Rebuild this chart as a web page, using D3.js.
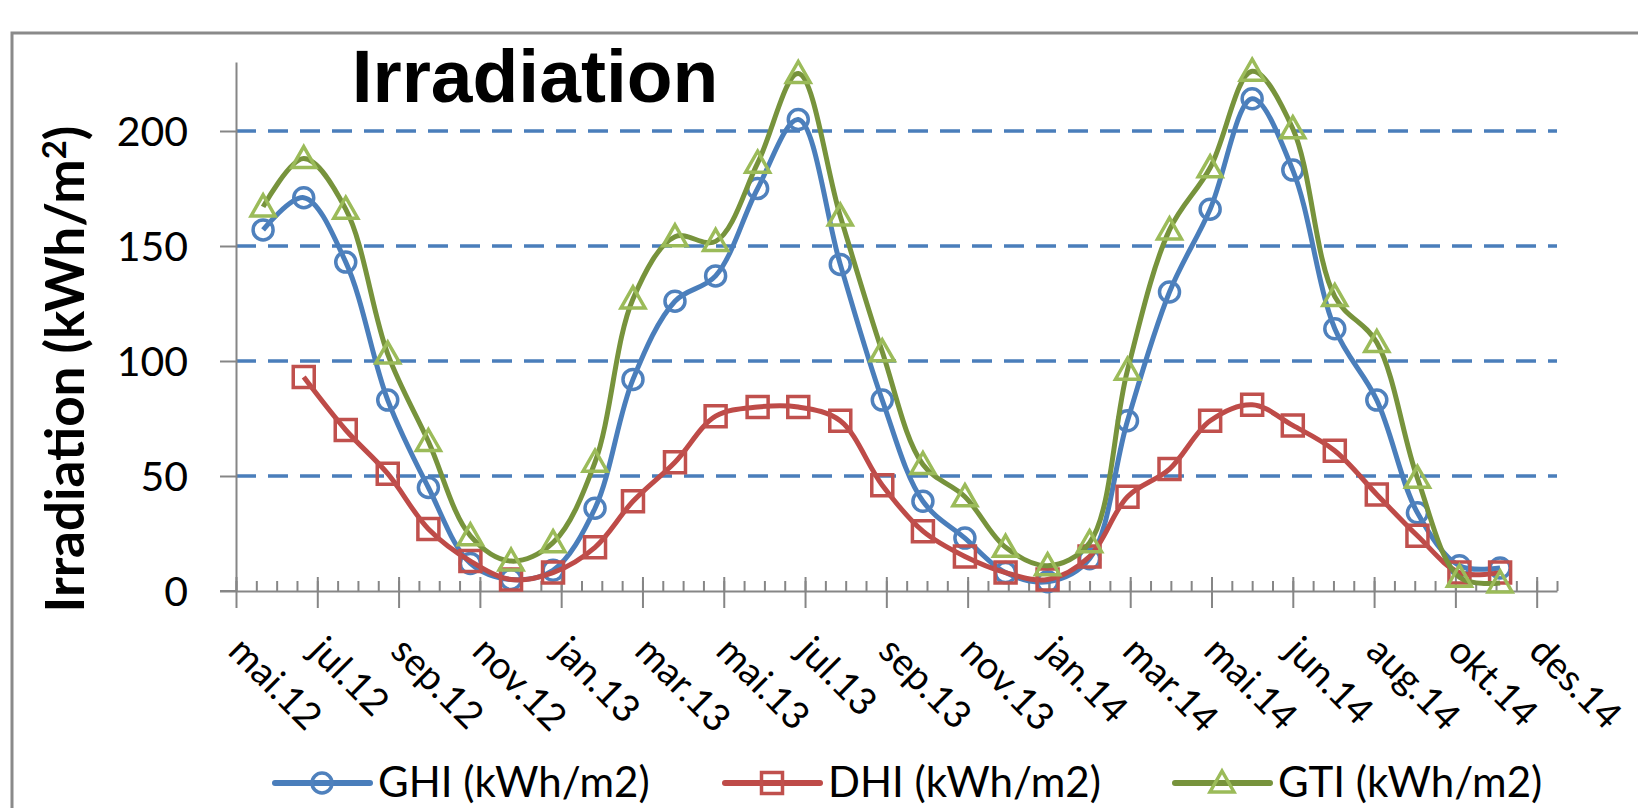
<!DOCTYPE html>
<html>
<head>
<meta charset="utf-8">
<script src="https://cdn.jsdelivr.net/npm/d3@7"></script>
<style>
  body { margin: 0; background: #fff; }
  svg text { font-family: Lato, "Open Sans", sans-serif; fill: #000; }
</style>
</head>
<body>
<svg id="chart" width="1638" height="808"></svg>
<script>
// monthly values, May 2012 .. Nov 2014
const MONTHS = ["2012-05","2012-06","2012-07","2012-08","2012-09","2012-10","2012-11","2012-12",
  "2013-01","2013-02","2013-03","2013-04","2013-05","2013-06","2013-07","2013-08","2013-09","2013-10","2013-11","2013-12",
  "2014-01","2014-02","2014-03","2014-04","2014-05","2014-06","2014-07","2014-08","2014-09","2014-10","2014-11"];
const GHI = [157,171,143,83,45,12,5,9,36,92,126,137,175,205,142,83,39,23,8,4,14,74,130,166,214,183,114,83,34,11,10];
const DHI = [null,93,70,51,27,13,5,8,19,39,56,76,80,80,74,46,26,15,8,5,15,41,53,74,81,72,61,42,24,8,8];
const GTI = [167,188,166,103,65,24,13,21,56,127,154,152,186,225,163,104,55,41,19,11,21,96,157,184,226,201,128,108,49,6,3.5];

const SERIES_NAMES = ["GHI (kWh/m2)", "DHI (kWh/m2)", "GTI (kWh/m2)"];
const X_TICK_LABELS = ["mai.12","jul.12","sep.12","nov.12","jan.13","mar.13","mai.13","jul.13","sep.13",
  "nov.13","jan.14","mar.14","mai.14","jun.14","aug.14","okt.14","des.14"];
const Y_TICKS = [0, 50, 100, 150, 200];

// excel style date axis: 60 day major unit, 15 day minor unit
const AXIS_START = new Date(Date.UTC(2012, 4, 11));
const MAJOR_DAYS = 60;
const MINOR_DAYS = 15;
const AXIS_DAYS = 975;

const LEFT = 236, RIGHT = 1557, TOP = 62, BOTTOM = 591;

var svg = d3.select('#chart');

// outer chart frame (cut by the picture edge)
svg.append('rect')
  .attr('x', 12).attr('y', 33)
  .attr('width', 1700).attr('height', 900)
  .attr('fill', 'none')
  .attr('stroke', '#8a8a8a')
  .attr('stroke-width', 3);

var parseMonth = d3.utcParse('%Y-%m');
// points sit at the last day of each month
var dates = MONTHS.map(function (m) {
  return d3.utcDay.offset(d3.utcMonth.offset(parseMonth(m), 1), -1);
});

var x = d3.scaleUtc()
  .domain([AXIS_START, d3.utcDay.offset(AXIS_START, AXIS_DAYS)])
  .range([LEFT, RIGHT]);

var y = d3.scaleLinear()
  .domain([0, 230])
  .range([BOTTOM, TOP]);

// dashed gridlines
svg.append('g')
  .selectAll('line')
  .data(Y_TICKS.filter(function (d) { return d > 0; }))
  .enter().append('line')
  .attr('x1', LEFT).attr('x2', RIGHT)
  .attr('y1', function (d) { return y(d); })
  .attr('y2', function (d) { return y(d); })
  .attr('stroke', '#4a7ebb')
  .attr('stroke-width', 3.5)
  .attr('stroke-dasharray', '20 12');

// y axis
var yAxis = svg.append('g')
  .attr('transform', 'translate(' + LEFT + ',0)')
  .call(d3.axisLeft(y).tickValues(Y_TICKS).tickSize(16).tickSizeOuter(0).tickPadding(32));
yAxis.select('.domain').attr('stroke', '#868686').attr('stroke-width', 2);
yAxis.selectAll('.tick line').attr('stroke', '#868686').attr('stroke-width', 2);
yAxis.selectAll('.tick text')
  .style('font-size', '41px')
  .attr('dy', '0.36em');

// x axis, minor ticks first
var majorDates = X_TICK_LABELS.map(function (d, i) { return d3.utcDay.offset(AXIS_START, i * MAJOR_DAYS); });
var minorDates = d3.range(0, AXIS_DAYS + 1, MINOR_DAYS).map(function (k) { return d3.utcDay.offset(AXIS_START, k); });

var xMinor = svg.append('g')
  .attr('transform', 'translate(0,' + BOTTOM + ')')
  .call(d3.axisBottom(x).tickValues(minorDates).tickSize(-10).tickSizeOuter(0).tickFormat(''));
xMinor.select('.domain').attr('stroke', '#868686').attr('stroke-width', 2);
xMinor.selectAll('.tick line').attr('stroke', '#868686').attr('stroke-width', 2);

var xAxis = svg.append('g')
  .attr('transform', 'translate(0,' + BOTTOM + ')')
  .call(d3.axisBottom(x).tickValues(majorDates).tickSize(17).tickSizeOuter(0)
    .tickFormat(function (d, i) { return X_TICK_LABELS[i]; }));
xAxis.select('.domain').remove();
xAxis.selectAll('.tick line')
  .attr('y1', -14)
  .attr('stroke', '#868686').attr('stroke-width', 2);
xAxis.selectAll('.tick text')
  .attr('x', 0).attr('y', 0).attr('dy', null)
  .attr('text-anchor', 'start')
  .attr('transform', 'translate(-10,62) rotate(45)')
  .style('font-size', '38px');

// the left tick of the y axis at zero continues the x axis line
svg.append('line')
  .attr('x1', LEFT - 16).attr('x2', LEFT)
  .attr('y1', BOTTOM).attr('y2', BOTTOM)
  .attr('stroke', '#868686').attr('stroke-width', 2);

var series = [
  { name: SERIES_NAMES[0], values: GHI, line: '#4a7ebb', mark: '#4f81bd', shape: 'circle' },
  { name: SERIES_NAMES[1], values: DHI, line: '#be4b48', mark: '#c0504d', shape: 'square' },
  { name: SERIES_NAMES[2], values: GTI, line: '#77933c', mark: '#9bbb59', shape: 'triangle' }
];

function markerPath(shape) {
  if (shape === 'circle') return d3.symbol().type(d3.symbolCircle).size(Math.PI * 100)();
  if (shape === 'square') return 'M-10.5,-10.5H10.5V10.5H-10.5Z';
  return 'M0,-12L12,9H-12Z';
}

var line = d3.line()
  .defined(function (d) { return d.v !== null; })
  .x(function (d) { return x(d.date); })
  .y(function (d) { return y(d.v); })
  .curve(d3.curveCatmullRom.alpha(0.5));

series.forEach(function (s) {
  var pts = dates.map(function (d, i) { return { date: d, v: s.values[i] }; })
    .filter(function (p) { return p.v !== null; });
  var g = svg.append('g');
  g.append('path')
    .attr('d', line(pts))
    .attr('fill', 'none')
    .attr('stroke', s.line)
    .attr('stroke-width', 5)
    .attr('stroke-linejoin', 'round');
  g.selectAll('path.mark')
    .data(pts)
    .enter().append('path')
    .attr('class', 'mark')
    .attr('d', markerPath(s.shape))
    .attr('transform', function (p) { return 'translate(' + x(p.date) + ',' + y(p.v) + ')'; })
    .attr('fill', 'none')
    .attr('stroke', s.mark)
    .attr('stroke-width', 3.5);
});

// legend
var legend = svg.append('g');
series.forEach(function (s, i) {
  var x0 = 275 + i * 450;
  var ly = 783;
  legend.append('line')
    .attr('x1', x0).attr('x2', x0 + 95)
    .attr('y1', ly).attr('y2', ly)
    .attr('stroke', s.line).attr('stroke-width', 6)
    .attr('stroke-linecap', 'round');
  legend.append('path')
    .attr('d', markerPath(s.shape))
    .attr('transform', 'translate(' + (x0 + 47) + ',' + ly + ')')
    .attr('fill', 'none')
    .attr('stroke', s.mark)
    .attr('stroke-width', 3.5);
  legend.append('text')
    .attr('x', x0 + 103)
    .attr('y', ly + 14)
    .style('font-size', '42px')
    .text(s.name);
});

// chart title
svg.append('text')
  .attr('x', 535).attr('y', 102)
  .attr('text-anchor', 'middle')
  .style('font-family', '"Liberation Sans", Arial, sans-serif')
  .style('font-weight', 'bold')
  .style('font-size', '75px')
  .text('Irradiation');

// y axis title
var yTitle = svg.append('text')
  .attr('transform', 'translate(84,369) rotate(-90)')
  .attr('text-anchor', 'middle')
  .style('font-weight', 'bold')
  .style('font-size', '53px');
yTitle.append('tspan').text('Irradiation (kWh/m');
yTitle.append('tspan').attr('dy', -18).style('font-size', '33px').text('2');
yTitle.append('tspan').attr('dy', 18).text(')');
</script>
</body>
</html>
